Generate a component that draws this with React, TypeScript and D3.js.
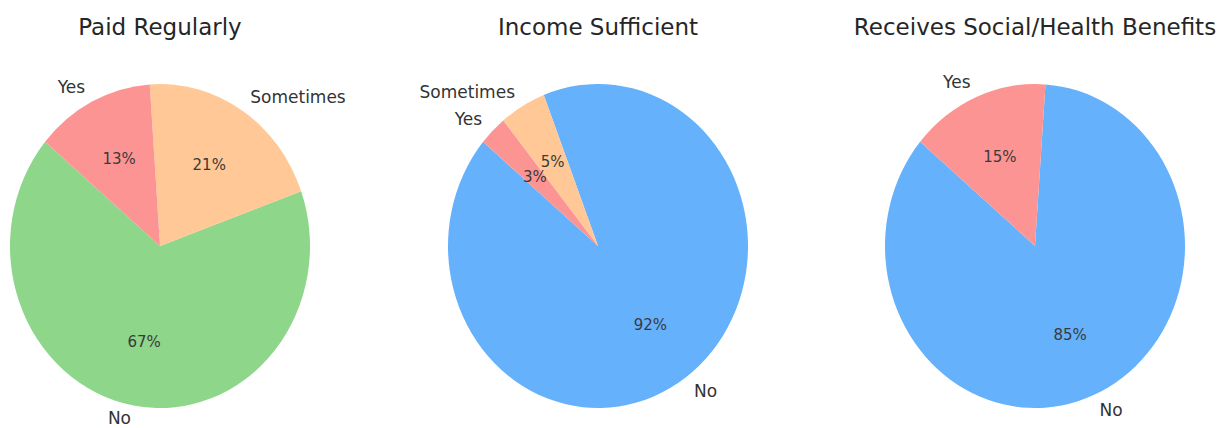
import React from "react";
import * as d3 from "d3";

const titles = ["Paid Regularly", "Income Sufficient", "Receives Social/Health Benefits"];
const paidLabels = ["No", "Sometimes", "Yes"];
const paidValues = [66.6, 20.6, 12.8];
const incomeLabels = ["No", "Sometimes", "Yes"];
const incomeValues = [92, 5, 3];
const benefitLabels = ["No", "Yes"];
const benefitValues = [85, 15];

const paidColors = ["#8dd68a", "#ffc896", "#fd9494"];
const incomeColors = ["#65b1fb", "#ffc896", "#fd9494"];
const benefitColors = ["#65b1fb", "#fd9494"];

const W = 1223;
const H = 428;
const centersX = [160, 598, 1035];
const CY = 246;
const RX = 150;
const RY = 162;
const START = 140; // matplotlib startangle, counter-clockwise

const FONT = "'DejaVu Sans', sans-serif";

function Pie({ cx, title, labels, values, colors }: any) {
  const data = labels.map((l: string, i: number) => ({ label: l, value: values[i], color: colors[i] }));
  const total = d3.sum(values as number[]);
  const s0 = ((90 - START) * Math.PI) / 180;
  const pie = d3
    .pie<any>()
    .sort(null)
    .value((d) => d.value)
    .startAngle(s0)
    .endAngle(s0 - 2 * Math.PI);
  const arcs = pie(data);
  const arc = d3.arc<any>().innerRadius(0).outerRadius(RX);
  const sy = RY / RX;
  return (
    <g>
      <text
        x={cx}
        y={35}
        textAnchor="middle"
        fontSize={23}
        fill="#262626"
        fontFamily={FONT}
      >
        {title}
      </text>
      <g transform={`translate(${cx},${CY}) scale(1,${sy})`}>
        {arcs.map((a, i) => (
          <path key={i} d={arc(a) as string} fill={a.data.color} />
        ))}
      </g>
      {arcs.map((a, i) => {
        const m = (a.startAngle + a.endAngle) / 2;
        const lx = cx + RX * 1.1 * Math.sin(m);
        const ly = Math.min(CY - RY * 1.1 * Math.cos(m), H - 10);
        const px = cx + RX * 0.6 * Math.sin(m);
        const py = CY - RY * 0.6 * Math.cos(m);
        const pct = ((a.data.value / total) * 100).toFixed(0) + "%";
        return (
          <g key={"t" + i}>
            <text
              x={lx}
              y={ly}
              textAnchor={lx > cx ? "start" : "end"}
              dominantBaseline="central"
              fontSize={17}
              fill="#333"
              fontFamily={FONT}
            >
              {a.data.label}
            </text>
            <text
              x={px}
              y={py}
              textAnchor="middle"
              dominantBaseline="central"
              fontSize={15}
              fill="#3a3a3a"
              fontFamily={FONT}
            >
              {pct}
            </text>
          </g>
        );
      })}
    </g>
  );
}

export default function App() {
  return (
    <svg
      width={W}
      height={H}
      style={{ position: "absolute", left: 0, top: 0, background: "#fff" }}
    >
      <Pie cx={centersX[0]} title={titles[0]} labels={paidLabels} values={paidValues} colors={paidColors} />
      <Pie cx={centersX[1]} title={titles[1]} labels={incomeLabels} values={incomeValues} colors={incomeColors} />
      <Pie cx={centersX[2]} title={titles[2]} labels={benefitLabels} values={benefitValues} colors={benefitColors} />
    </svg>
  );
}
